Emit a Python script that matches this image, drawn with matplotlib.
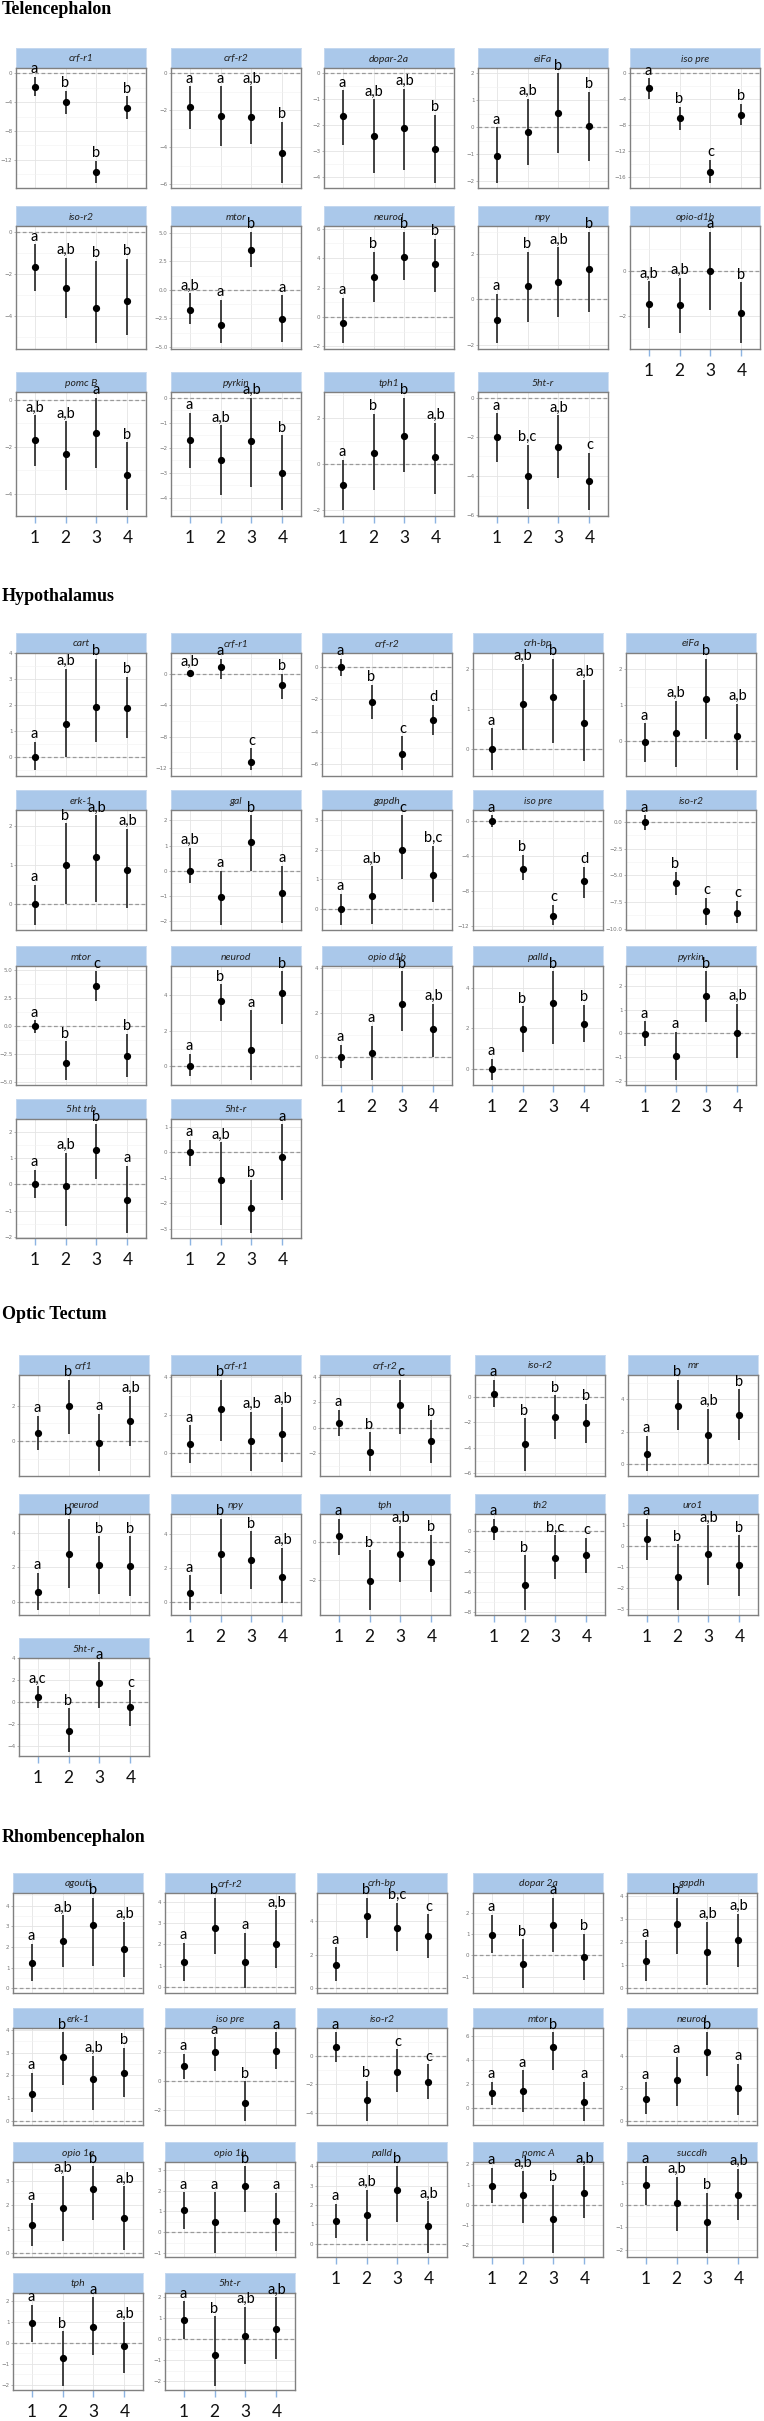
import matplotlib
matplotlib.use("Agg")
import matplotlib.pyplot as plt
from matplotlib.ticker import MaxNLocator, AutoMinorLocator

# ---------------- data ----------------
TEL_GENES = ["crf-r1", "crf-r2", "dopar-2a", "eiFa", "iso pre", "iso-r2", "mtor",
             "neurod", "npy", "opio-d1b", "pomc B", "pyrkin", "tph1", "5ht-r"]
TEL_MEAN = [[-1.9, -4.0, -13.7, -4.8], [-1.8, -2.3, -2.35, -4.3], [-1.65, -2.4, -2.1, -2.9],
            [-1.05, -0.15, 0.55, 0.05], [-2.3, -6.9, -15.1, -6.4], [-1.7, -2.67, -3.6, -3.3],
            [-1.8, -3.1, 3.5, -2.6], [-0.4, 2.7, 4.1, 3.6], [-0.9, 0.6, 0.75, 1.35],
            [-1.45, -1.5, 0.0, -1.85], [-1.7, -2.3, -1.4, -3.2], [-1.7, -2.5, -1.75, -3.0],
            [-0.9, 0.5, 1.25, 0.3], [-2.0, -4.0, -2.5, -4.25]]
TEL_HI = [[-0.45, -2.4, -12.2, -3.2], [-0.7, -0.7, -0.7, -2.6], [-0.65, -1.0, -0.6, -1.6],
          [0.0, 1.07, 2.0, 1.32], [-0.75, -5.1, -13.3, -4.7], [-0.6, -1.24, -1.4, -1.3],
          [-0.3, -0.9, 5.1, -0.5], [1.3, 4.4, 5.8, 5.3], [0.25, 2.1, 2.3, 3.0],
          [-0.45, -0.3, 1.75, -0.5], [-0.65, -0.9, 0.1, -1.8], [-0.6, -1.1, 0.0, -1.5],
          [0.2, 2.2, 2.9, 1.8], [-0.8, -2.4, -0.9, -2.8]]
TEL_LO = [[-3.2, -5.7, -15.2, -6.4], [-3.0, -3.9, -3.8, -5.9], [-2.75, -3.85, -3.7, -4.2],
          [-2.04, -1.39, -0.96, -1.24], [-4.0, -8.7, -16.8, -8.0], [-2.8, -4.1, -5.3, -4.9],
          [-3.0, -4.7, 2.0, -4.6], [-1.8, 1.0, 2.5, 1.7], [-1.95, -1.0, -0.8, -0.55],
          [-2.5, -2.75, -1.7, -3.2], [-2.8, -3.85, -2.9, -4.7], [-2.8, -3.9, -3.55, -4.5],
          [-2.0, -1.1, -0.35, -1.3], [-3.3, -5.7, -4.1, -5.75]]
TEL_LET = [["a", "b", "b", "b"], ["a", "a", "a,b", "b"], ["a", "a,b", "a,b", "b"],
           ["a", "a,b", "b", "b"], ["a", "b", "c", "b"], ["a", "a,b", "b", "b"],
           ["a,b", "a", "b", "a"], ["a", "b", "b", "b"], ["a", "b", "a,b", "b"],
           ["a,b", "a,b", "a", "b"], ["a,b", "a,b", "a", "b"], ["a", "a,b", "a,b", "b"],
           ["a", "b", "b", "a,b"], ["a", "b,c", "a,b", "c"]]

HYP_GENES = ["cart", "crf-r1", "crf-r2", "crh-bp", "eiFa", "erk-1", "gal", "gapdh",
             "iso pre", "iso-r2", "mtor", "neurod", "opio d1b", "palld", "pyrkin",
             "5ht trb", "5ht-r"]
HYP_MEAN = [[0.0, 1.3, 1.95, 1.9], [0.1, 0.77, -11.2, -1.46], [0.0, -2.2, -5.4, -3.3],
            [0.0, 1.13, 1.3, 0.65], [-0.02, 0.22, 1.17, 0.14], [0.0, 1.0, 1.19, 0.86],
            [0.0, -1.07, 1.14, -0.88], [0.0, 0.44, 1.99, 1.15], [0.0, -5.5, -10.9, -6.9],
            [0.0, -5.75, -8.35, -8.5], [-0.05, -3.3, 3.6, -2.67], [0.05, 3.67, 0.93, 4.1],
            [0.0, 0.21, 2.37, 1.25], [0.0, 1.96, 3.23, 2.22], [-0.03, -0.93, 1.57, 0.03],
            [0.0, -0.05, 1.29, -0.59], [0.0, -1.09, -2.2, -0.17]]
HYP_HI = [[0.6, 3.4, 3.8, 3.1], [0.5, 1.9, -9.5, 0.0], [0.5, -1.1, -4.3, -2.35],
          [0.52, 2.14, 2.27, 1.73], [0.5, 1.13, 2.3, 1.04], [0.5, 2.06, 2.26, 1.92],
          [0.9, 0.0, 2.2, 0.2], [0.5, 1.45, 3.17, 2.14], [0.6, -3.9, -9.6, -5.25],
          [0.6, -4.7, -7.1, -7.4], [0.5, -1.37, 4.87, -0.7], [0.7, 4.6, 3.15, 5.33],
          [0.55, 1.4, 3.85, 2.4], [0.5, 3.08, 4.8, 3.16], [0.5, 0.06, 2.6, 1.23],
          [0.54, 1.2, 2.28, 0.71], [0.5, 0.4, -1.1, 1.1]]
HYP_LO = [[-0.5, 0.0, 0.6, 0.75], [-0.3, -0.7, -12.3, -3.2], [-0.6, -3.2, -6.4, -4.2],
          [-0.54, -0.02, 0.16, -0.31], [-0.57, -0.72, 0.07, -0.81], [-0.52, 0.0, 0.05, -0.11],
          [-0.5, -2.15, 0.0, -2.1], [-0.53, -0.5, 1.0, 0.22], [-0.7, -6.75, -11.85, -8.8],
          [-0.75, -6.85, -9.6, -9.5], [-0.65, -4.8, 2.2, -4.55], [-0.52, 2.55, -0.74, 2.4],
          [-0.5, -1.0, 1.2, 0.0], [-0.53, 0.82, 1.2, 1.3], [-0.54, -1.94, 0.46, -1.04],
          [-0.52, -1.6, 0.2, -1.84], [-0.55, -2.86, -3.15, -1.85]]
HYP_LET = [["a", "a,b", "b", "b"], ["a,b", "a", "c", "b"], ["a", "b", "c", "d"],
           ["a", "a,b", "b", "a,b"], ["a", "a,b", "b", "a,b"], ["a", "b", "a,b", "a,b"],
           ["a,b", "a", "b", "a"], ["a", "a,b", "c", "b,c"], ["a", "b", "c", "d"],
           ["a", "b", "c", "c"], ["a", "b", "c", "b"], ["a", "b", "a", "b"],
           ["a", "a", "b", "a,b"], ["a", "b", "b", "b"], ["a", "a", "b", "a,b"],
           ["a", "a,b", "b", "a"], ["a", "a,b", "b", "a"]]

OT_GENES = ["crf1", "crf-r1", "crf-r2", "iso-r2", "mr", "neurod", "npy", "tph", "th2",
            "uro1", "5ht-r"]
OT_MEAN = [[0.48, 2.0, -0.11, 1.14], [0.46, 2.29, 0.63, 0.99], [0.4, -1.88, 1.8, -1.02],
           [0.23, -3.74, -1.6, -2.08], [0.62, 3.6, 1.8, 3.0], [0.57, 2.78, 2.17, 2.08],
           [0.53, 2.8, 2.49, 1.49], [0.32, -2.04, -0.61, -1.07], [0.23, -5.33, -2.67, -2.37],
           [0.32, -1.47, -0.39, -0.9], [0.45, -2.64, 1.71, -0.48]]
OT_HI = [[1.43, 3.47, 1.52, 2.55], [1.46, 3.85, 2.17, 2.43], [1.4, -0.35, 3.8, 0.65],
         [1.33, -1.69, 0.1, -0.59], [1.72, 5.2, 3.4, 4.6], [1.7, 4.8, 3.79, 3.79],
         [1.57, 4.9, 4.16, 3.18], [1.25, -0.43, 0.86, 0.38], [1.23, -2.4, -0.4, -0.67],
         [1.32, 0.08, 1.0, 0.52], [1.44, -0.57, 3.62, 1.08]]
OT_LO = [[-0.53, 0.42, -1.71, -0.25], [-0.53, 0.63, -0.95, -0.48], [-0.62, -3.44, -0.48, -2.77],
         [-0.85, -5.85, -3.33, -3.59], [-0.45, 2.12, 0.0, 1.5], [-0.46, 0.83, 0.5, 0.37],
         [-0.49, 0.49, 0.75, -0.04], [-0.7, -3.61, -2.09, -2.63], [-0.93, -7.83, -4.77, -4.1],
         [-0.66, -3.08, -1.85, -2.39], [-0.57, -4.52, -0.51, -2.2]]
OT_LET = [["a", "b", "a", "a,b"], ["a", "b", "a,b", "a,b"], ["a", "b", "c", "b"],
          ["a", "b", "b", "b"], ["a", "b", "a,b", "b"], ["a", "b", "b", "b"],
          ["a", "b", "b", "a,b"], ["a", "b", "a,b", "b"], ["a", "b", "b,c", "c"],
          ["a", "b", "a,b", "b"], ["a,c", "b", "a", "c"]]

RH_GENES = ["agouti", "crf-r2", "crh-bp", "dopar 2a", "gapdh", "erk-1", "iso pre", "iso-r2",
            "mtor", "neurod", "opio 1a", "opio 1b", "palld", "pomc A", "succdh", "tph", "5ht-r"]
RH_MEAN = [[1.23, 2.32, 3.05, 1.93], [1.18, 2.79, 1.18, 2.04], [1.37, 4.29, 3.6, 3.1],
           [0.98, -0.38, 1.44, -0.05], [1.19, 2.78, 1.58, 2.11], [1.19, 2.83, 1.82, 2.11],
           [1.06, 2.0, -1.46, 2.09], [0.68, -3.14, -1.11, -1.8], [1.21, 1.44, 5.1, 0.48],
           [1.35, 2.55, 4.29, 2.03], [1.17, 1.86, 2.66, 1.45], [1.06, 0.51, 2.21, 0.54],
           [1.17, 1.47, 2.76, 0.91], [0.95, 0.48, -0.69, 0.56], [0.92, 0.11, -0.77, 0.46],
           [0.93, -0.74, 0.76, -0.17], [0.91, -0.74, 0.14, 0.5]]
RH_HI = [[2.17, 3.55, 4.4, 3.22], [2.07, 4.2, 2.55, 3.6], [2.45, 5.4, 5.1, 4.4],
         [1.9, 0.76, 2.72, 1.03], [2.09, 3.95, 2.9, 3.25], [2.11, 3.9, 2.86, 3.23],
         [1.91, 3.03, 0.0, 3.37], [1.68, -1.73, 0.48, -0.59], [2.2, 3.13, 6.28, 2.2],
         [2.38, 3.98, 5.49, 3.52], [2.06, 3.21, 3.61, 2.78], [1.92, 1.92, 3.16, 1.89],
         [2.04, 2.79, 4.0, 2.18], [1.84, 1.67, 0.97, 1.9], [1.75, 1.28, 0.54, 1.63],
         [1.81, 0.54, 2.16, 1.0], [1.81, 1.09, 1.55, 2.0]]
RH_LO = [[0.35, 1.05, 1.1, 0.55], [0.31, 1.55, -0.06, 0.91], [0.46, 3.0, 2.2, 1.8],
         [0.1, -1.55, 0.15, -1.16], [0.32, 1.51, 0.15, 0.93], [0.37, 1.56, 0.48, 1.04],
         [0.16, 0.74, -2.7, 0.85], [-0.43, -4.57, -2.57, -3.05], [0.23, -0.34, 3.18, -1.04],
         [0.41, 0.93, 2.8, 0.35], [0.3, 0.47, 1.38, 0.12], [0.17, -0.97, 0.97, -0.89],
         [0.31, 0.14, 1.1, -0.47], [0.1, -0.89, -2.36, -0.64], [0.01, -1.15, -2.14, -0.65],
         [0.05, -2.05, -0.59, -1.44], [0.03, -2.22, -1.18, -0.93]]
RH_LET = [["a", "a,b", "b", "a,b"], ["a", "b", "a", "a,b"], ["a", "b", "b,c", "c"],
          ["a", "b", "a", "b"], ["a", "b", "a,b", "a,b"], ["a", "b", "a,b", "b"],
          ["a", "a", "b", "a"], ["a", "b", "c", "c"], ["a", "a", "b", "a"],
          ["a", "a", "b", "a"], ["a", "a,b", "b", "a,b"], ["a", "a", "b", "a"],
          ["a", "a,b", "b", "a,b"], ["a", "a,b", "b", "a,b"], ["a", "a,b", "b", "a,b"],
          ["a", "b", "a", "a,b"], ["a", "b", "a,b", "a,b"]]

GROUPS = [1, 2, 3, 4]

# ---------------- style / layout ----------------
W, H = 764, 2421
HEAD = "#aac8ea"; FRAME = "#808080"; GRIDC = "#e4e4e4"; MINC = "#f1f1f1"
TICKBLUE = "#8db4e2"; PW = 130; HDR = 20

SECTIONS = [
    ("Telencephalon", 10, [16, 171, 324, 478, 630],
     [(48, 188), (206, 349), (372, 516)],
     TEL_GENES, TEL_MEAN, TEL_LO, TEL_HI, TEL_LET),
    ("Hypothalamus", 597, [16, 171, 322, 473, 626],
     [(633, 776), (790, 930), (946, 1085), (1099, 1238)],
     HYP_GENES, HYP_MEAN, HYP_LO, HYP_HI, HYP_LET),
    ("Optic Tectum", 1315, [19, 171, 320, 475, 628],
     [(1355, 1476), (1494, 1615), (1638, 1756)],
     OT_GENES, OT_MEAN, OT_LO, OT_HI, OT_LET),
    ("Rhombencephalon", 1837, [13, 165, 317, 473, 627],
     [(1873, 1993), (2008, 2125), (2142, 2257), (2273, 2390)],
     RH_GENES, RH_MEAN, RH_LO, RH_HI, RH_LET),
]

fig = plt.figure(figsize=(W / 100, H / 100), dpi=100)
fig.patch.set_facecolor("white")


def px(l, top, w, h):
    return [l / W, 1 - (top + h) / H, w / W, h / H]


def panel(l, top, bot, gene, mean, lo, hi, let, xlab):
    hdr = fig.add_axes(px(l, top, PW, HDR))
    hdr.set_facecolor(HEAD)
    hdr.set_xticks([]); hdr.set_yticks([])
    for s in hdr.spines.values():
        s.set_color("#c9dbf0"); s.set_linewidth(0.6)
    hdr.text(0.5, 0.45, gene, transform=hdr.transAxes, ha="center", va="center",
             fontsize=7.5, style="italic", family="Lato", color="#222222")

    ax = fig.add_axes(px(l, top + HDR, PW, bot - top - HDR))
    ax.set_facecolor("white")
    ax.vlines(GROUPS, lo, hi, color="#222222", lw=1.2, zorder=3)
    ax.plot(GROUPS, mean, "o", ms=4.2, color="black", zorder=4)
    ax.axhline(0, color="#9a9a9a", lw=0.9, ls=(0, (3, 2)), zorder=2)
    for xi, h, t in zip(GROUPS, hi, let):
        ax.annotate(t, (xi, h), xytext=(0, 0.5), textcoords="offset points",
                    ha="center", va="bottom", fontsize=10.5, family="Lato",
                    color="black", annotation_clip=False, zorder=10)
    ymin = min(min(lo), 0); ymax = max(max(hi), 0)
    pad = 0.05 * (ymax - ymin)
    ax.set_ylim(ymin - pad, ymax + pad)
    ax.set_xlim(0.4, 4.6)
    ax.yaxis.set_major_locator(MaxNLocator(nbins=5, steps=[1, 2, 2.5, 4, 5, 10]))
    ax.yaxis.set_minor_locator(AutoMinorLocator(2))
    ax.set_xticks(GROUPS)
    ax.grid(which="major", color=GRIDC, lw=0.6)
    ax.grid(which="minor", axis="y", color=MINC, lw=0.4)
    ax.set_axisbelow(True)
    ax.tick_params(axis="y", which="major", labelsize=4, labelcolor="#777777",
                   length=1.5, width=0.5, color="#999999", pad=1)
    ax.tick_params(axis="y", which="minor", length=0)
    if xlab:
        ax.set_xticklabels([str(g) for g in GROUPS], fontsize=12.5, family="Lato",
                           color="#111111")
        ax.tick_params(axis="x", length=5, width=1.0, color=TICKBLUE, pad=5)
    else:
        ax.set_xticklabels([])
        ax.tick_params(axis="x", length=0)
    for s in ax.spines.values():
        s.set_color(FRAME); s.set_linewidth(1.0)


for (title, ty, lefts, rows, genes, means, los, his, lets) in SECTIONS:
    fig.text(2 / W, 1 - ty / H, title, fontsize=13, fontweight="bold",
             family="Liberation Serif", ha="left", va="center", color="black")
    n = len(genes)
    for i in range(n):
        r, c = divmod(i, 5)
        top, bot = rows[r]
        panel(lefts[c], top, bot, genes[i], means[i], los[i], his[i], lets[i],
              xlab=(i + 5 >= n))

fig.savefig("out.png", dpi=100, facecolor="white")
